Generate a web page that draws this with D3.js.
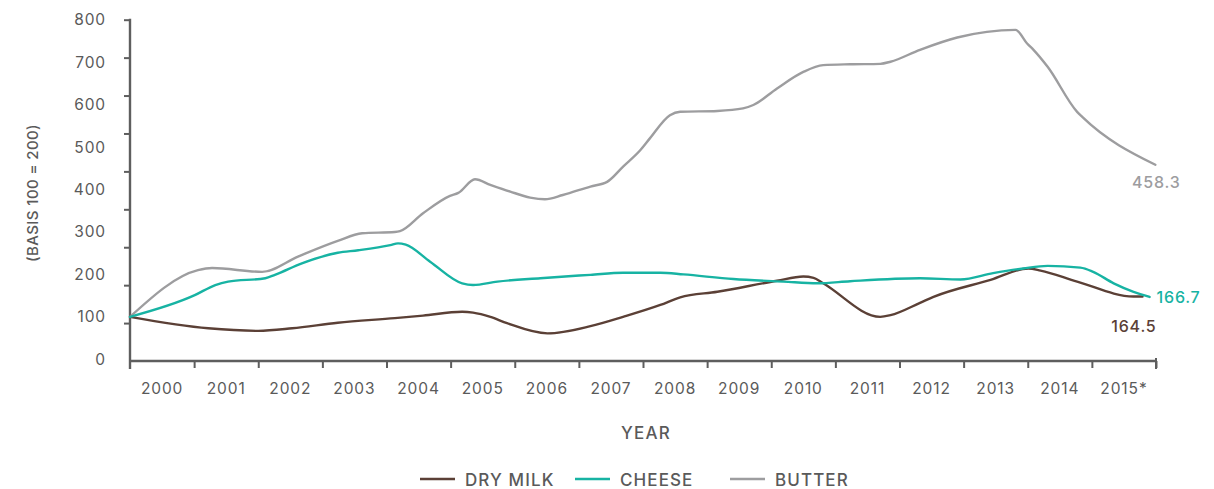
<!DOCTYPE html>
<html>
<head>
<meta charset="utf-8">
<script src="https://cdn.jsdelivr.net/npm/d3@7"></script>
<style>
  html, body { margin: 0; padding: 0; background: #fff; }
  svg { display: block; }
  text { font-family: Inter, "Noto Sans", sans-serif; }
</style>
</head>
<body>
<svg id="chart" width="1214" height="489"></svg>
<script>
// ---- data (fractional year, index value) ----
const years = ["2000","2001","2002","2003","2004","2005","2006","2007","2008","2009","2010","2011","2012","2013","2014","2015*"];
const yTickValues = [0,100,200,300,400,500,600,700,800];

const dryMilk = [
  [2000.00,100],[2001.22,73],[2002.00,67],[2002.53,73],[2003.24,86],[2004.13,97],
  [2004.57,103],[2005.18,112],[2005.35,110],[2005.62,100],[2005.88,85],[2006.51,61],
  [2007.18,78],[2007.69,100],[2008.27,128],[2008.58,146],[2009.16,159],[2010.09,185],
  [2010.50,195],[2010.66,192],[2010.81,179],[2011.70,100],[2011.86,104],[2012.32,133],
  [2012.53,147],[2013.42,187],[2014.01,214],[2014.20,209],[2014.77,183],[2015.65,148],[2015.79,148]
];
const cheese = [
  [2000.00,100],[2001.01,151],[2001.33,175],[2001.53,183],[2002.11,191],[2002.26,199],
  [2002.68,226],[2003.24,251],[2003.56,257],[2004.06,269],[2004.18,273],[2004.30,270],
  [2004.68,230],[2005.18,179],[2005.35,175],[2005.73,183],[2006.40,191],[2007.18,199],
  [2007.69,204],[2008.27,204],[2008.63,200],[2009.41,189],[2010.19,183],[2010.72,179],
  [2011.23,184],[2012.32,191],[2012.95,188],[2013.46,203],[2013.93,214],[2014.31,220],
  [2014.82,216],[2015.02,206],[2015.34,179],[2015.65,159],[2015.90,147]
];
const butter = [
  [2000.00,100],[2001.06,210],[2001.28,215],[2002.06,206],[2002.62,242],[2003.24,279],
  [2003.62,297],[2004.13,300],[2004.21,302],[2004.57,344],[2004.99,385],[2005.12,392],
  [2005.38,424],[2005.62,411],[2005.93,395],[2006.24,381],[2006.47,377],[2006.75,387],
  [2007.18,407],[2007.44,418],[2007.69,454],[2007.96,493],[2008.11,521],[2008.42,575],
  [2008.58,583],[2009.16,585],[2009.56,591],[2009.72,599],[2010.09,638],[2010.50,677],
  [2010.81,693],[2011.23,695],[2011.70,696],[2011.86,701],[2012.32,729],[2012.90,758],
  [2013.81,776],[2013.99,744],[2014.09,729],[2014.31,689],[2014.77,583],[2014.85,571],[2015.99,458.3]
];
const seriesNames = ["DRY MILK","CHEESE","BUTTER"];
const seriesColors = ["#5b4036","#17b3a3","#9d9d9f"];
const endLabels = ["164.5","166.7","458.3"];

// ---- layout ----
const svg = d3.select("#chart");
const plotLeft = 130, plotRight = 1156, plotTop = 19.7, plotBottom = 359.3, axisY = 361;
const axisColor = "#5e5e5e", textColor = "#5a5a5a";

const x = d3.scaleLinear().domain([2000, 2016]).range([plotLeft, plotRight]);
const xBand = d3.scaleBand().domain(years).range([plotLeft, plotRight]);
const y = d3.scaleLinear().domain([0, 800]).range([plotBottom, plotTop]);
const yMarks = d3.scaleLinear().domain([0, 9]).range([axisY, plotTop]);

// y tick labels
const gyl = svg.append("g").attr("transform", `translate(${plotLeft - 24},0)`)
  .call(d3.axisLeft(y).tickValues(yTickValues).tickSize(0).tickPadding(0));
gyl.select(".domain").remove();
gyl.selectAll("text").attr("font-size", 15.5).attr("fill", textColor)
  .attr("letter-spacing", "0.9px").style("font-family", "Inter, sans-serif");

// y axis line + marks
const gym = svg.append("g").attr("transform", `translate(${plotLeft},0)`)
  .call(d3.axisLeft(yMarks).tickValues(d3.range(1, 10)).tickSize(6).tickFormat(""));
gym.select(".domain").remove();
gym.selectAll("line").attr("stroke", axisColor).attr("stroke-width", 2);
svg.append("line").attr("x1", plotLeft).attr("x2", plotLeft).attr("y1", plotTop - 1).attr("y2", axisY + 8)
  .attr("stroke", axisColor).attr("stroke-width", 2.4);

// x axis line + marks
const gxm = svg.append("g").attr("transform", `translate(0,${axisY})`)
  .call(d3.axisBottom(x).tickValues(d3.range(2001, 2017)).tickSize(7).tickFormat(""));
gxm.select(".domain").remove();
gxm.selectAll("line").attr("stroke", axisColor).attr("stroke-width", 2);
svg.append("line").attr("x1", plotLeft).attr("x2", plotRight + 1).attr("y1", axisY).attr("y2", axisY)
  .attr("stroke", axisColor).attr("stroke-width", 2.4);
svg.append("line").attr("x1", plotRight).attr("x2", plotRight).attr("y1", axisY - 3).attr("y2", axisY + 8)
  .attr("stroke", axisColor).attr("stroke-width", 2);

// x labels
const gxl = svg.append("g").attr("transform", `translate(0,${axisY + 22})`)
  .call(d3.axisBottom(xBand).tickSize(0).tickPadding(0));
gxl.select(".domain").remove();
gxl.selectAll("text").attr("font-size", 15.5).attr("fill", textColor)
  .attr("letter-spacing", "0.9px").style("font-family", "Inter, sans-serif");

// axis titles
svg.append("text").attr("x", 646).attr("y", 439).attr("text-anchor", "middle")
  .attr("font-size", 17).attr("font-weight", 500).attr("fill", textColor).attr("letter-spacing", "1.2px")
  .text("YEAR");
svg.append("text").attr("transform", "translate(38,193) rotate(-90)").attr("text-anchor", "middle")
  .attr("font-size", 15).attr("font-weight", 500).attr("fill", textColor).attr("letter-spacing", "0.4px")
  .text("(BASIS 100 = 200)");

// lines
const line = d3.line().x(d => x(d[0])).y(d => y(d[1])).curve(d3.curveMonotoneX);
const allSeries = [dryMilk, cheese, butter];
const drawOrder = [2, 0, 1];
drawOrder.forEach(i => {
  svg.append("path").datum(allSeries[i]).attr("d", line)
    .attr("fill", "none").attr("stroke", seriesColors[i]).attr("stroke-width", 2.4)
    .attr("stroke-linejoin", "round").attr("stroke-linecap", "round");
});

// end labels
const lastOf = s => s[s.length - 1];
svg.append("text").attr("x", x(lastOf(butter)[0]) + 1).attr("y", y(lastOf(butter)[1]) + 23)
  .attr("text-anchor", "middle").attr("font-size", 16).attr("font-weight", 500)
  .attr("fill", seriesColors[2]).attr("letter-spacing", "0.8px").text(endLabels[2]);
svg.append("text").attr("x", x(lastOf(cheese)[0]) + 7).attr("y", y(lastOf(cheese)[1]) + 6)
  .attr("text-anchor", "start").attr("font-size", 16).attr("font-weight", 500)
  .attr("fill", seriesColors[1]).attr("letter-spacing", "0.8px").text(endLabels[1]);
svg.append("text").attr("x", x(lastOf(dryMilk)[0]) + 14).attr("y", y(lastOf(dryMilk)[1]) + 36)
  .attr("text-anchor", "end").attr("font-size", 16).attr("font-weight", 500)
  .attr("fill", seriesColors[0]).attr("letter-spacing", "0.8px").text(endLabels[0]);

// legend
const legendX = [420, 575, 730];
const lg = svg.append("g");
seriesNames.forEach((name, i) => {
  lg.append("line").attr("x1", legendX[i]).attr("x2", legendX[i] + 35).attr("y1", 479).attr("y2", 479)
    .attr("stroke", seriesColors[i]).attr("stroke-width", 2.4);
  lg.append("text").attr("x", legendX[i] + 45).attr("y", 485.5).attr("font-size", 17)
    .attr("font-weight", 500).attr("fill", textColor).attr("letter-spacing", "1.1px").text(name);
});
</script>
</body>
</html>
